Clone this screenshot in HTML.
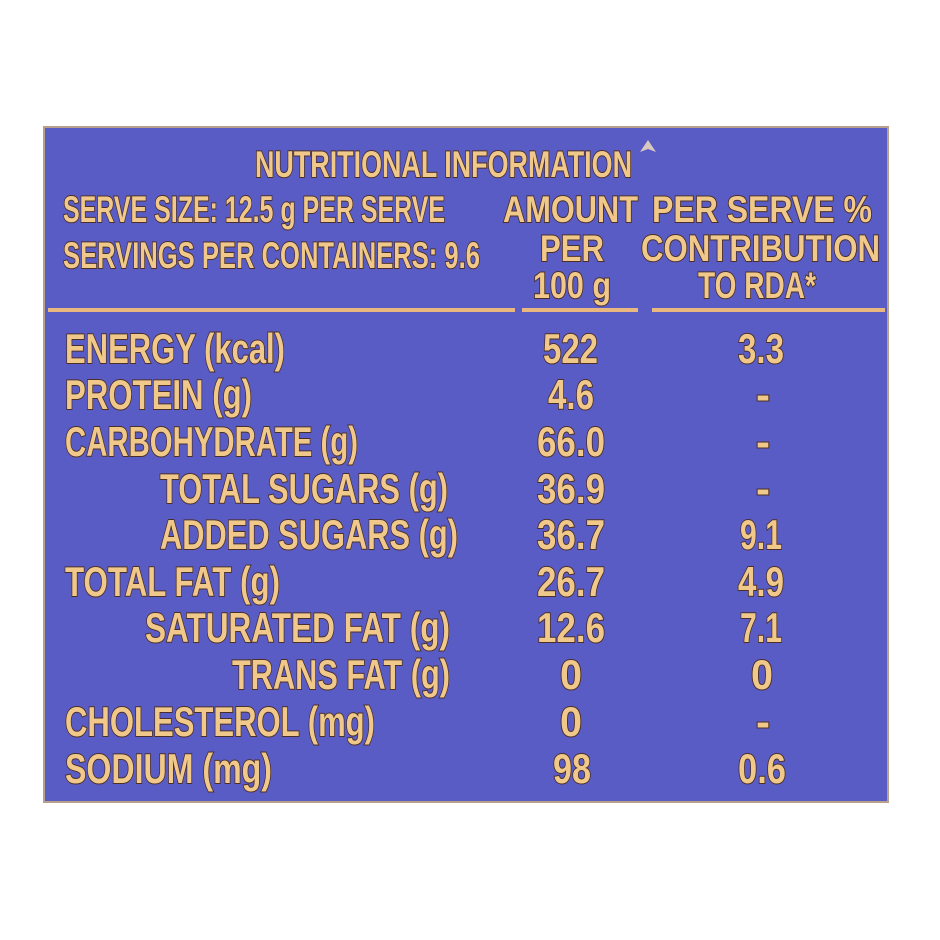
<!DOCTYPE html>
<html><head><meta charset="utf-8"><style>
html,body{margin:0;padding:0;background:#fff;width:940px;height:940px;overflow:hidden}
svg text{font-family:"Liberation Sans",sans-serif;font-weight:bold;fill:#f0c98a;stroke:#4a2e2a;stroke-width:2;paint-order:stroke;}
</style></head><body>
<svg width="940" height="940" viewBox="0 0 940 940" xmlns="http://www.w3.org/2000/svg">
<rect x="44" y="127" width="844" height="675" fill="#5a5cc6" stroke="#b9a08a" stroke-width="2"/>
<g font-size="37">
<text x="255" y="177" textLength="377" lengthAdjust="spacingAndGlyphs">NUTRITIONAL INFORMATION</text>
<text x="63" y="222" textLength="382" lengthAdjust="spacingAndGlyphs">SERVE SIZE: 12.5 g PER SERVE</text>
<text x="63" y="268" textLength="417" lengthAdjust="spacingAndGlyphs">SERVINGS  PER CONTAINERS: 9.6</text>
<text x="503" y="222" textLength="135" lengthAdjust="spacingAndGlyphs">AMOUNT</text>
<text x="540" y="261" textLength="64" lengthAdjust="spacingAndGlyphs">PER</text>
<text x="533" y="298" textLength="78" lengthAdjust="spacingAndGlyphs">100 g</text>
<text x="652" y="222" textLength="220" lengthAdjust="spacingAndGlyphs">PER SERVE %</text>
<text x="641" y="261" textLength="239" lengthAdjust="spacingAndGlyphs">CONTRIBUTION</text>
<text x="698" y="298" textLength="118" lengthAdjust="spacingAndGlyphs">TO RDA*</text>
</g>
<path d="M648 140 l-8 12 l8 -3 l8 3 z" fill="#d8c8c0" stroke="none"/>
<g stroke="#e8b880" stroke-width="4">
<line x1="48" y1="310" x2="515" y2="310"/>
<line x1="522" y1="310" x2="638" y2="310"/>
<line x1="652" y1="310" x2="885" y2="310"/>
</g>
<g font-size="42">
<text x="65" y="363" textLength="220" lengthAdjust="spacingAndGlyphs">ENERGY (kcal)</text>
<text x="65" y="409" textLength="187" lengthAdjust="spacingAndGlyphs">PROTEIN (g)</text>
<text x="65" y="456" textLength="293" lengthAdjust="spacingAndGlyphs">CARBOHYDRATE (g)</text>
<text x="160" y="503" textLength="288" lengthAdjust="spacingAndGlyphs">TOTAL SUGARS (g)</text>
<text x="160" y="549" textLength="298" lengthAdjust="spacingAndGlyphs">ADDED SUGARS (g)</text>
<text x="65" y="596" textLength="215" lengthAdjust="spacingAndGlyphs">TOTAL FAT (g)</text>
<text x="145" y="642" textLength="305" lengthAdjust="spacingAndGlyphs">SATURATED FAT (g)</text>
<text x="232" y="689" textLength="218" lengthAdjust="spacingAndGlyphs">TRANS FAT (g)</text>
<text x="65" y="736" textLength="310" lengthAdjust="spacingAndGlyphs">CHOLESTEROL (mg)</text>
<text x="65" y="783" textLength="207" lengthAdjust="spacingAndGlyphs">SODIUM  (mg)</text>
</g>
<g font-size="42">
<text x="543" y="363" textLength="55" lengthAdjust="spacingAndGlyphs">522</text>
<text x="548" y="409" textLength="46" lengthAdjust="spacingAndGlyphs">4.6</text>
<text x="537" y="456" textLength="68" lengthAdjust="spacingAndGlyphs">66.0</text>
<text x="537" y="503" textLength="68" lengthAdjust="spacingAndGlyphs">36.9</text>
<text x="537" y="549" textLength="68" lengthAdjust="spacingAndGlyphs">36.7</text>
<text x="537" y="596" textLength="68" lengthAdjust="spacingAndGlyphs">26.7</text>
<text x="537" y="642" textLength="68" lengthAdjust="spacingAndGlyphs">12.6</text>
<text x="560" y="689" textLength="22" lengthAdjust="spacingAndGlyphs">0</text>
<text x="560" y="736" textLength="22" lengthAdjust="spacingAndGlyphs">0</text>
<text x="553" y="783" textLength="38" lengthAdjust="spacingAndGlyphs">98</text>
<text x="738" y="363" textLength="46" lengthAdjust="spacingAndGlyphs">3.3</text>
<text x="756" y="409">-</text>
<text x="756" y="456">-</text>
<text x="756" y="503">-</text>
<text x="740" y="549" textLength="42" lengthAdjust="spacingAndGlyphs">9.1</text>
<text x="738" y="596" textLength="46" lengthAdjust="spacingAndGlyphs">4.9</text>
<text x="740" y="642" textLength="42" lengthAdjust="spacingAndGlyphs">7.1</text>
<text x="751" y="689" textLength="22" lengthAdjust="spacingAndGlyphs">0</text>
<text x="756" y="736">-</text>
<text x="738" y="783" textLength="48" lengthAdjust="spacingAndGlyphs">0.6</text>
</g>
</svg>
</body></html>
